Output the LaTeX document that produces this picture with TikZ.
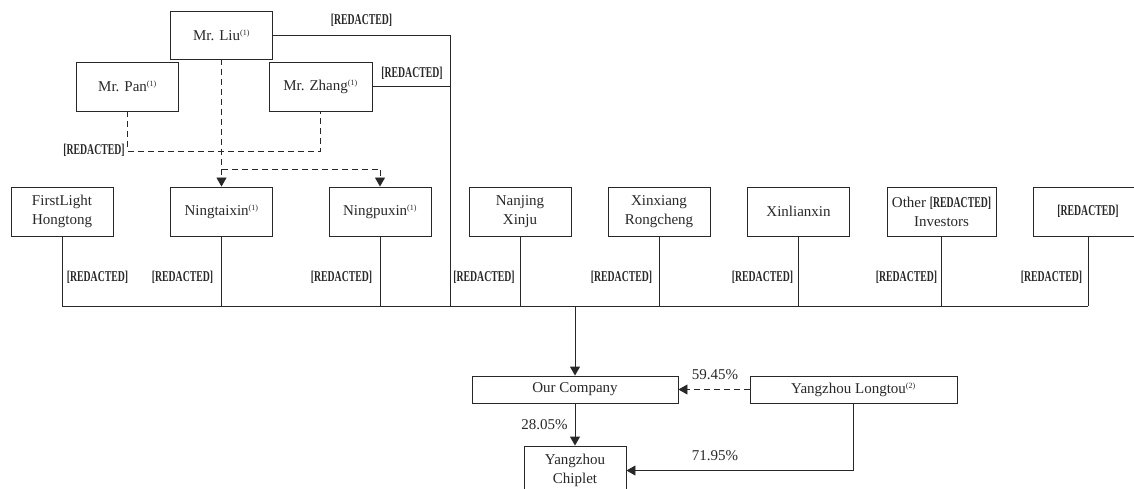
\documentclass[tikz,border=0pt]{standalone}
\usepackage{fontspec}
\setmainfont{Liberation Serif}
\usetikzlibrary{arrows.meta}
\definecolor{ink}{RGB}{40,40,40}
\newcommand{\redact}{\scalebox{0.65}[1]{\bfseries[REDACTED]}}
\newcommand{\fn}[1]{\textsuperscript{\fontsize{8}{8}\selectfont(#1)}}

\begin{document}
\begin{tikzpicture}[
    x=1pt,
    y=-1pt,
    >={Triangle[width=10pt,length=9pt]},
    entity/.style={
      draw=ink,
      text=ink,
      line width=0.9pt,
      minimum width=102pt,
      minimum height=49pt,
      inner sep=2pt,
      align=center,
      font=\fontsize{15}{19}\selectfont
    },
    wide/.style={
      entity,
      minimum width=206pt,
      minimum height=27pt
    },
    holding/.style={
      draw=ink,
      line width=0.9pt
    },
    control/.style={
      holding,
      dash pattern=on 6pt off 4pt
    },
    share/.style={
      text=ink,
      inner sep=0pt,
      font=\fontsize{15}{18}\selectfont
    }
  ]
    \useasboundingbox (0,0) rectangle (1134,489);

    \node[entity,minimum height=48pt] (liu) at (221.5,35) {Mr. Liu\fn{1}};
    \node[entity] (pan) at (127.5,86.5) {Mr. Pan\fn{1}};
    \node[entity,minimum width=103pt] (zhang) at (320.5,86.5) {Mr. Zhang\fn{1}};

    \foreach \n/\x/\w/\l in {fl/62/102/{FirstLight\\Hongtong},ntx/221.5/102/{Ningtaixin\fn{1}},
        npx/380/102/{Ningpuxin\fn{1}},nj/520/102/{Nanjing\\Xinju},xr/659/102/{Xinxiang\\Rongcheng},
        xl/798.5/102/{Xinlianxin},oth/941.5/109/{Other \redact\\Investors},red/1088/110/{\redact}}
      \node[entity,minimum width=\w pt] (\n) at (\x,211.5) {\l};

    \node[wide] (ourco) at (575,389.5) {Our Company};
    \node[wide,minimum width=207pt] (lt) at (853.5,389.5) {Yangzhou Longtou\fn{2}};
    \node[entity] (chip) at (575,470.5) {Yangzhou\\Chiplet};

    \coordinate (bus) at (0,306);
    \coordinate (trunk) at (450,306);
    \coordinate (fork) at (221.5,169);
    \coordinate (join) at (0,151);

    \foreach \n in {fl,ntx,npx,nj,xr,xl,oth,red}
      \draw[holding] (\n.south) -- (\n.south |- bus);
    \draw[holding] (fl.south |- bus) -- (red.south |- bus);
    \draw[holding] (liu.east) -| (trunk);
    \draw[holding] (zhang.east) -- (zhang.east -| trunk);

    \foreach \x/\i in {97.5/1,182.5/2,341.5/3,484/4,621.5/5,762.5/6,906.5/7,1051.5/8}
      \node[share] (r\i) at (\x,277) {\redact};
    \node[share] (rliu) at (361.5,20) {\redact};
    \node[share] (rzhang) at (412,73) {\redact};
    \node[share] (rpan) at (94,150) {\redact};

    \draw[control] (pan.south) |- (zhang.south |- join) -- (zhang.south);
    \draw[control,->] (liu.south) -- (ntx.north);
    \draw[control,->] (fork) -| (npx.north);

    \draw[holding,->] (ourco.north |- bus) -- (ourco.north);
    \draw[control,->] (lt.west) -- (ourco.east);
    \draw[holding,->] (ourco.south) -- (chip.north);
    \draw[holding,->] (lt.south) |- (chip.east);

    \node[share] (p1) at (715,375) {59.45\%};
    \node[share] (p2) at (544.5,425) {28.05\%};
    \node[share] (p3) at (715,456) {71.95\%};
  \end{tikzpicture}
\end{document}
